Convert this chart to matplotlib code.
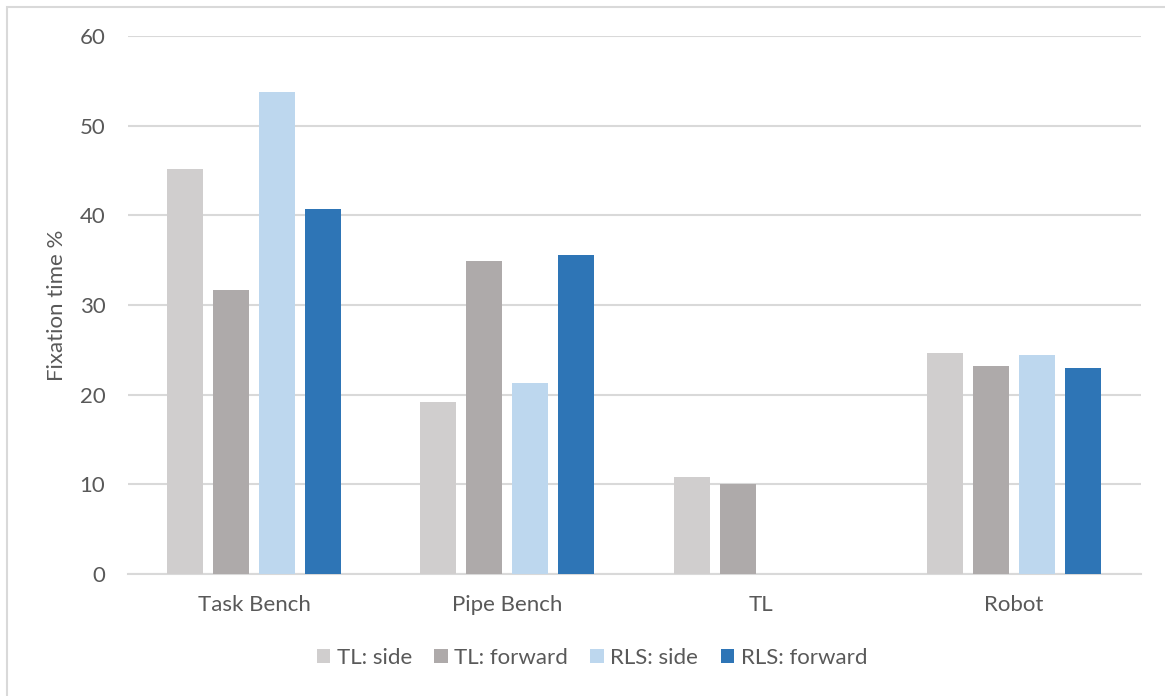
import numpy as np
import matplotlib.pyplot as plt
from matplotlib.patches import Rectangle

categories = ["Task Bench", "Pipe Bench", "TL", "Robot"]
series_names = ["TL: side", "TL: forward", "RLS: side", "RLS: forward"]
tl_side = [45.2, 19.2, 10.8, 24.6]
tl_forward = [31.7, 34.9, 10.0, 23.2]
rls_side = [53.8, 21.3, 0.0, 24.4]
rls_forward = [40.7, 35.6, 0.0, 23.0]
y_ticks = [0, 10, 20, 30, 40, 50, 60]

colors = ["#D0CECE", "#AEAAAA", "#BDD7EE", "#2E75B6"]
text_color = "#595959"
grid_color = "#D9D9D9"

plt.rcParams['font.family'] = ['Lato', 'DejaVu Sans']

fig = plt.figure(figsize=(11.65, 6.96), dpi=100)
W, H = 1165, 696
left, right, top, bottom = 127.5, 1140.5, 36, 574
ax = fig.add_axes([left / W, 1 - bottom / H, (right - left) / W, (bottom - top) / H])

# chart frame (extends past the image on right/bottom)
fig.patches.append(Rectangle((7 / W, -0.05), 1.1, 1 - 7 / H + 0.05,
                             transform=fig.transFigure, fill=False,
                             edgecolor="#D9D9D9", linewidth=1.5))

x = np.arange(len(categories))
bw = 36 / 253
pitch = 46 / 253
all_series = [tl_side, tl_forward, rls_side, rls_forward]
for i, (vals, name, c) in enumerate(zip(all_series, series_names, colors)):
    offs = (i - 1.5) * pitch
    ax.bar(x + offs, vals, width=bw, color=c, label=name, zorder=3)

ax.set_xlim(-0.5, len(categories) - 0.5)
ax.set_ylim(0, 60)
ax.set_yticks(y_ticks)
ax.set_xticks(x)
ax.set_xticklabels(categories)
ax.yaxis.grid(True, color=grid_color, linewidth=1.5, zorder=0)
ax.tick_params(axis="both", length=0, labelsize=16, colors=text_color)
ax.tick_params(axis="y", pad=16)
ax.tick_params(axis="x", pad=15)
for s in ["top", "right", "left"]:
    ax.spines[s].set_visible(False)
ax.spines["bottom"].set_color(grid_color)
ax.spines["bottom"].set_linewidth(1.5)
ax.set_axisbelow(True)

ax.set_ylabel("Fixation time %", fontsize=16, color=text_color, labelpad=9)

leg = fig.legend(loc="center", bbox_to_anchor=(592 / W, 1 - 658 / H), ncol=4,
                 frameon=False, fontsize=16, handlelength=0.6, handleheight=0.6,
                 handletextpad=0.3, columnspacing=1.0)
for t in leg.get_texts():
    t.set_color(text_color)

fig.savefig("out.png", dpi=100)
